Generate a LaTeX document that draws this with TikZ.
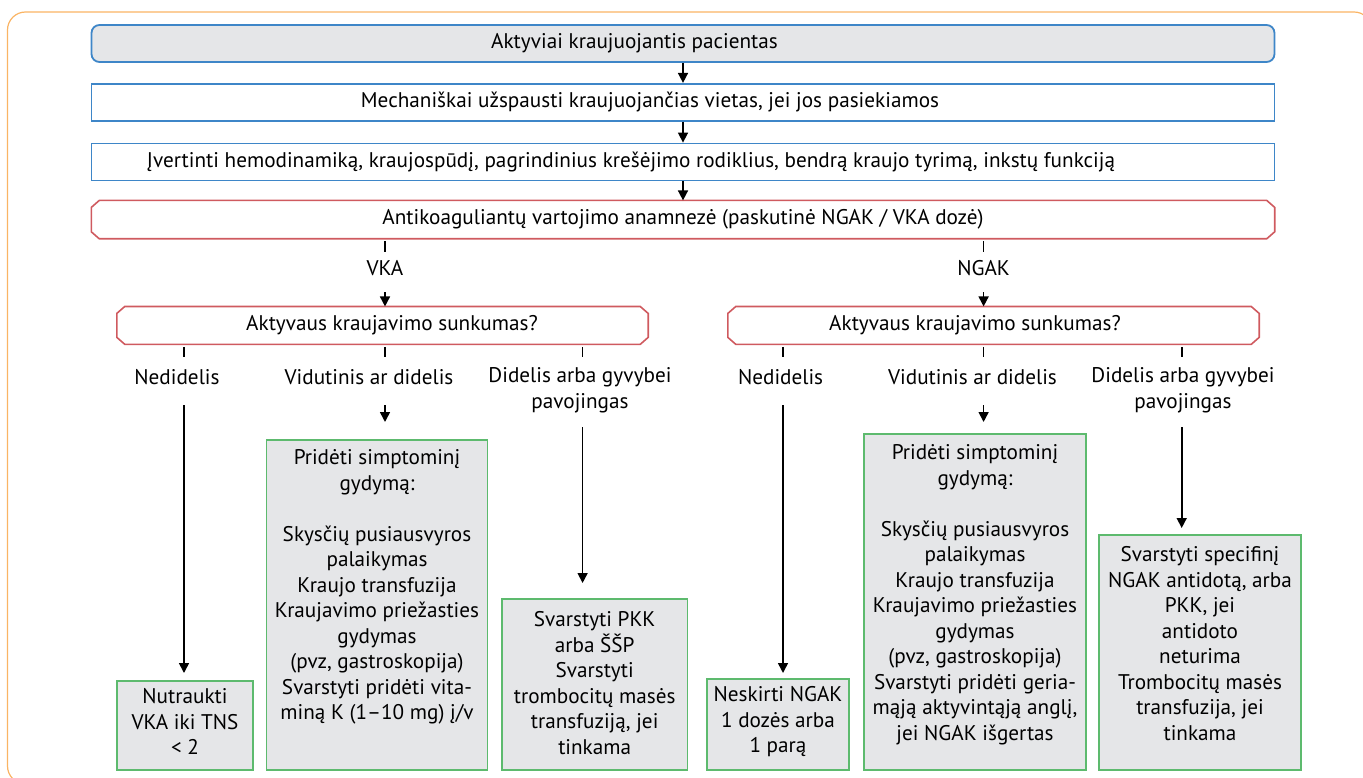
\documentclass[tikz,border=0pt]{standalone}
\usepackage{fontspec}
\setmainfont{PT Sans}
\usetikzlibrary{arrows.meta, positioning, calc}
\definecolor{lineblue}{RGB}{62,134,200}
\definecolor{linered}{RGB}{207,90,95}
\definecolor{linegreen}{RGB}{93,186,110}
\definecolor{softgray}{RGB}{229,230,232}
\definecolor{frameorange}{RGB}{250,180,100}
\newcommand{\fsz}{\fontsize{21.2}{25.5}\selectfont}
% chamfered outline round a named node
\newcommand{\chamfer}[1]{%
  \draw[linered, line width=1.6pt] ([xshift=8pt]#1.north west) -- ([xshift=-8pt]#1.north east)
    -- ([yshift=-7pt]#1.north east) -- ([yshift=7pt]#1.south east)
    -- ([xshift=-8pt]#1.south east) -- ([xshift=8pt]#1.south west)
    -- ([yshift=7pt]#1.south west) -- ([yshift=-7pt]#1.north west) -- cycle;}

\begin{document}
\begin{tikzpicture}[x=1pt, y=-1pt, font=\fsz,
  bluebox/.style={draw=lineblue, line width=1.8pt, minimum width=1183pt, minimum height=37pt, inner sep=0pt},
  redbox/.style={minimum height=37.5pt, inner sep=0pt},
  greenbox/.style={draw=linegreen, line width=1.6pt, fill=softgray, anchor=north, inner sep=0pt},
  txt/.style={inner sep=0pt, align=center},
  ln/.style={line width=1.6pt},
  arr/.style={line width=1.6pt, -{Triangle[length=10pt, width=10pt]}}]
  \useasboundingbox (0,0) rectangle (1363,778);
  % outer frame
  \begin{scope}
    \clip (0,0) rectangle (1363,778);
    \draw[frameorange, line width=1.2pt, rounded corners=18pt] (7.5,12) rectangle (1372,784);
  \end{scope}
  % top chain
  \node[bluebox, rounded corners=8pt, fill=softgray] (pat) at (683,43.5) {};
  \node[txt] (patt) at (634.5,43.5) {Aktyviai kraujuojantis pacientas};
  \node[bluebox] (mech) at (683,102.3) {};
  \node[txt] (mecht) at (650,102.3) {Mechaniškai užspausti kraujuojančias vietas, jei jos pasiekiamos};
  \node[bluebox] (eval) at (683,162) {};
  \node[txt] (evalt) at (631,162) {Įvertinti hemodinamiką, kraujospūdį, pagrindinius krešėjimo rodiklius, bendrą kraujo tyrimą, inkstų funkciją};
  \node[redbox, minimum width=1183pt, minimum height=38pt] (hist) at (683,219.6) {Antikoaguliantų vartojimo anamnezė (paskutinė NGAK / VKA dozė)};
  \chamfer{hist}
  \draw[arr] (pat.south) -- (mech.north);
  \draw[arr] (mech.south) -- (eval.north);
  \draw[arr] (eval.south) -- (hist.north);
  % VKA / NGAK
  \node[txt] (vka) at (385,268) {VKA};
  \node[txt] (ngak) at (983.6,268) {NGAK};
  \node[redbox, minimum width=531pt] (sevl) at (382.5,325.4) {};
  \node[redbox, minimum width=531pt] (sevr) at (993.5,325.4) {};
  \chamfer{sevl}
  \chamfer{sevr}
  \node[txt] (sevlt) at (392,325.4) {Aktyvaus kraujavimo sunkumas?};
  \node[txt] (sevrt) at (975,325.4) {Aktyvaus kraujavimo sunkumas?};
  \foreach \k in {vka,ngak}
    \draw[ln] ($(hist.south -| \k)+(0,2.5)$) -- ++(0,11);
  \draw[arr] ($(vka)+(0,24)$) -- (sevl.north -| vka);
  \draw[arr] ($(ngak)+(0,24)$) -- (sevr.north -| ngak);
  % severity ticks
  \coordinate (kl1) at (184,357);
  \coordinate (kl2) at (385,357);
  \coordinate (kl3) at (582.6,357);
  \coordinate (kr1) at (783,357);
  \coordinate (kr2) at (983.6,357);
  \coordinate (kr3) at (1181.7,357);
  \foreach \k in {kl1,kl2,kl3}
    \draw[ln] ($(sevl.south -| \k)+(0,2.5)$) -- (\k);
  \foreach \k in {kr1,kr2,kr3}
    \draw[ln] ($(sevr.south -| \k)+(0,2.5)$) -- (\k);
  \node[txt] (nl1) at (177,377) {Nedidelis};
  \node[txt] (nl2) at (369,377) {Vidutinis ar didelis};
  \node[txt] (nl3) at (580,390) {Didelis arba gyvybei\\pavojingas};
  \node[txt] (nr1) at (780.6,377) {Nedidelis};
  \node[txt] (nr2) at (972.5,377) {Vidutinis ar didelis};
  \node[txt] (nr3) at (1183,390) {Didelis arba gyvybei\\pavojingas};
  % outcome boxes
  \node[greenbox, minimum width=136pt, minimum height=89pt] (bl1) at (185,680) {};
  \node[greenbox, minimum width=221pt, minimum height=330pt] (bl2) at (377,439) {};
  \node[greenbox, minimum width=185.5pt, minimum height=171pt] (bl3) at (594.7,598) {};
  \node[greenbox, minimum width=142pt, minimum height=91pt] (br1) at (778,678) {};
  \node[greenbox, minimum width=222pt, minimum height=336pt] (br2) at (975,433) {};
  \node[greenbox, minimum width=201.6pt, minimum height=235pt] (br3) at (1200,534) {};
  \node[txt, anchor=north] (tl1) at ($(bl1.north)+(0,8.5)$) {Nutraukti\\VKA iki TNS\\< 2};
  \node[txt, anchor=north] (tl2) at ($(bl2.north)+(0,10.5)$) {Pridėti simptominį\\gydymą:\\[25.5pt]Skysčių pusiausvyros\\palaikymas\\Kraujo transfuzija\\Kraujavimo priežasties\\gydymas\\(pvz, gastroskopija)\\Svarstyti pridėti vita-\\miną K (1–10 mg) į/v};
  \node[txt, anchor=north] (tl3) at ($(bl3.north)+(0,13.5)$) {Svarstyti PKK\\arba ŠŠP\\Svarstyti\\trombocitų masės\\transfuziją, jei\\tinkama};
  \node[txt, anchor=north] (tr1) at ($(br1.north)+(0,8.5)$) {Neskirti NGAK\\1 dozės arba\\1 parą};
  \node[txt, anchor=north] (tr2) at ($(br2.north)+(0,11.5)$) {Pridėti simptominį\\gydymą:\\[25.5pt]Skysčių pusiausvyros\\palaikymas\\Kraujo transfuzija\\Kraujavimo priežasties\\gydymas\\(pvz, gastroskopija)\\Svarstyti pridėti geria-\\mąją aktyvintąją anglį,\\jei NGAK išgertas};
  \node[txt, anchor=north] (tr3) at ($(br3.north)+(0,12.5)$) {Svarstyti specifinį\\NGAK antidotą, arba\\PKK, jei\\antidoto\\neturima\\Trombocitų masės\\transfuzija, jei\\tinkama};
  % branch arrows
  \draw[arr] ($(nl1 -| kl1)+(0,28)$) -- ($(bl1.north -| kl1)+(0,-7)$);
  \draw[arr] ($(nl2 -| kl2)+(0,28)$) -- ($(bl2.north -| kl2)+(0,-17)$);
  \draw[arr] ($(nl3 -| kl3)+(0,37)$) -- ($(bl3.north -| kl3)+(0,-15)$);
  \draw[arr] ($(nr1 -| kr1)+(0,28)$) -- ($(br1.north -| kr1)+(0,-5)$);
  \draw[arr] ($(nr2 -| kr2)+(0,28)$) -- ($(br2.north -| kr2)+(0,-11)$);
  \draw[arr] ($(nr3 -| kr3)+(0,37)$) -- ($(br3.north -| kr3)+(0,-6)$);
\end{tikzpicture}
\end{document}
